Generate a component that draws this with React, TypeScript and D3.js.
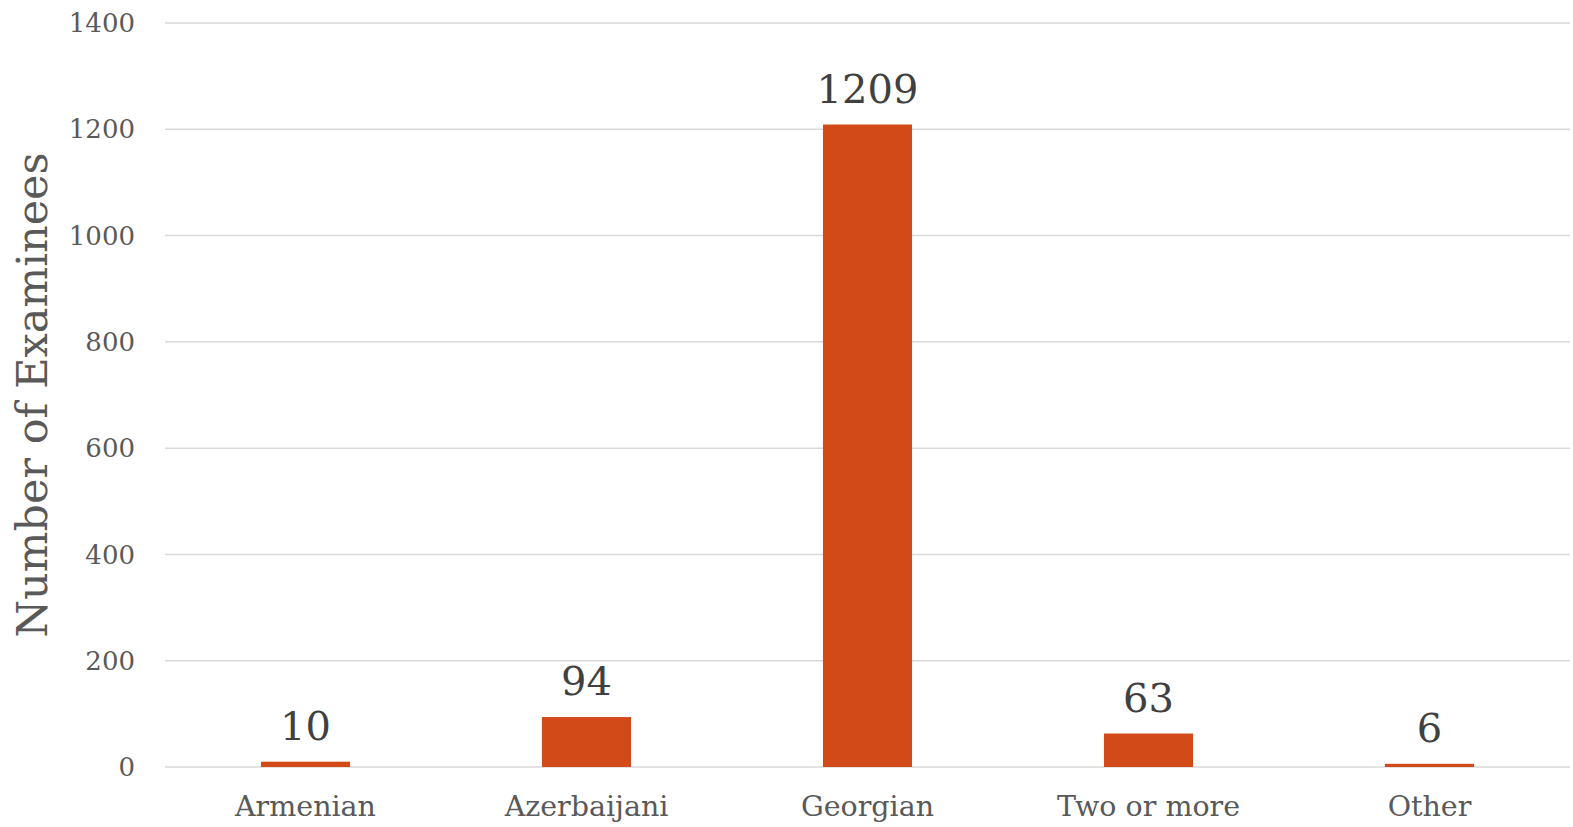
import React from 'react';
import * as d3 from 'd3';

const categories = ['Armenian', 'Azerbaijani', 'Georgian', 'Two or more', 'Other'];
const examinees = [10, 94, 1209, 63, 6];
const yTicks = [0, 200, 400, 600, 800, 1000, 1200, 1400];

const W = 1573;
const H = 827;
const margin = { top: 23, right: 3, bottom: 60, left: 165 };
const font = '"DejaVu Serif", Rockwell, serif';

const App = () => {
  const x = d3
    .scaleBand()
    .domain(categories)
    .range([margin.left, W - margin.right])
    .paddingInner(0.683)
    .paddingOuter(0.3415);
  const y = d3
    .scaleLinear()
    .domain([0, 1400])
    .range([H - margin.bottom, margin.top]);

  return (
    <svg width={W} height={H} style={{ position: 'absolute', left: 0, top: 0 }}>
      <rect width={W} height={H} fill="#fff" />
      {/* gridlines */}
      {yTicks.map(t => (
        <g key={t}>
          <line
            x1={margin.left}
            x2={W - margin.right}
            y1={y(t)}
            y2={y(t)}
            stroke="#d9d9d9"
            strokeWidth={1.5}
          />
          <text
            x={135}
            y={y(t)}
            dy="0.35em"
            textAnchor="end"
            fontFamily={font}
            fontSize={26}
            fill="#595959"
          >
            {t}
          </text>
        </g>
      ))}
      {/* bars */}
      {categories.map((c, i) => (
        <g key={c}>
          <rect
            x={x(c)}
            y={y(examinees[i])}
            width={x.bandwidth()}
            height={y(0) - y(examinees[i])}
            fill="#d24a17"
          />
          <text
            x={x(c)! + x.bandwidth() / 2}
            y={y(examinees[i]) - 22}
            textAnchor="middle"
            fontFamily={font}
            fontSize={40}
            fill="#404040"
          >
            {examinees[i]}
          </text>
          <text
            x={x(c)! + x.bandwidth() / 2}
            y={816}
            textAnchor="middle"
            fontFamily={font}
            fontSize={28.5}
            fill="#595959"
          >
            {c}
          </text>
        </g>
      ))}
      <text
        transform={`translate(47, ${(margin.top + H - margin.bottom) / 2}) rotate(-90)`}
        textAnchor="middle"
        fontFamily={font}
        fontSize={43}
        fill="#595959"
      >
        Number of Examinees
      </text>
    </svg>
  );
};

export default App;
